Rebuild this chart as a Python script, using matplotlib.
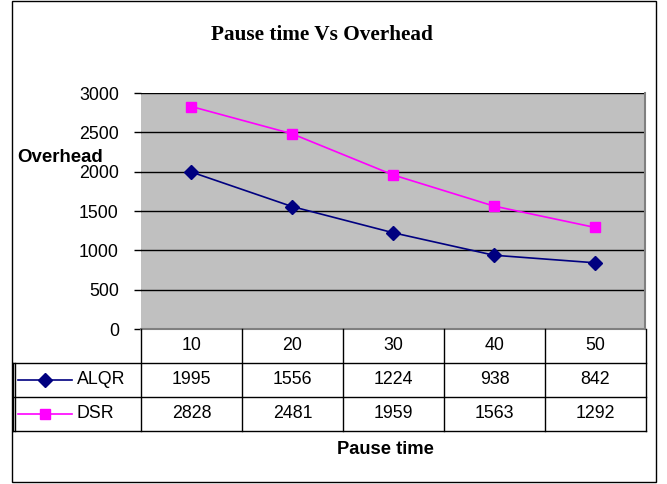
import matplotlib
matplotlib.use("Agg")
import matplotlib.pyplot as plt
from matplotlib.lines import Line2D
from matplotlib.patches import Rectangle

pause_times = [10, 20, 30, 40, 50]
alqr = [1995, 1556, 1224, 938, 842]
dsr = [2828, 2481, 1959, 1563, 1292]
series_names = ["ALQR", "DSR"]
y_ticks = [0, 500, 1000, 1500, 2000, 2500, 3000]

W, H = 667, 484
plt.rcParams["font.family"] = ["Liberation Sans", "DejaVu Sans"]
FS = 12.8

fig = plt.figure(figsize=(W / 100, H / 100), dpi=100)


def fx(px):
    return px / W


def fy(py):
    return 1 - py / H


def hline(x0, x1, y, **kw):
    fig.add_artist(Line2D([fx(x0), fx(x1)], [fy(y), fy(y)], color="black", lw=1, **kw))


def vline(x, y0, y1, **kw):
    fig.add_artist(Line2D([fx(x), fx(x)], [fy(y0), fy(y1)], color="black", lw=1, **kw))


# outer chart border
fig.add_artist(Rectangle((fx(12), fy(482)), fx(656) - fx(12), fy(1) - fy(482),
                         fill=False, edgecolor="black", lw=1))

left, right, top, bottom = 141, 645, 93, 329
ax = fig.add_axes([fx(left), fy(bottom), fx(right) - fx(left), fy(top) - fy(bottom)])
ax.set_facecolor("#C0C0C0")
ax.set_xlim(0.5, len(pause_times) + 0.5)
ax.set_ylim(0, 3000)
ax.set_yticks(y_ticks)
ax.set_yticklabels([str(t) for t in y_ticks], fontsize=FS)
ax.set_xticks([])
ax.yaxis.grid(True, color="black", lw=1)
ax.set_axisbelow(True)
ax.tick_params(axis="y", direction="out", length=5, width=1, pad=11)
for side in ["top", "left"]:
    ax.spines[side].set_visible(False)
ax.spines["right"].set_color("#808080")
ax.spines["right"].set_linewidth(1.5)
ax.spines["bottom"].set_color("#808080")
ax.spines["bottom"].set_linewidth(1.5)

xs = range(1, len(pause_times) + 1)
ax.plot(xs, alqr, color="#000080", marker="D", markersize=7.5, lw=1.2, clip_on=False)
ax.plot(xs, dsr, color="#FF00FF", marker="s", markersize=7.5, lw=1.2, clip_on=False)

fig.text(fx(322), fy(35), "Pause time Vs Overhead", ha="center", va="center",
         fontsize=15.3, fontweight="bold", family=["Liberation Serif", "DejaVu Serif"])
fig.text(fx(17), fy(158), "Overhead", ha="left", va="center", fontsize=13.4, fontweight="bold")
fig.text(fx(385), fy(449), "Pause time", ha="center", va="center", fontsize=13.2, fontweight="bold")

# data table
col_w = (646 - left) / len(pause_times)
row_tops = [329, 363, 397, 431]
cols = [left + i * col_w for i in range(len(pause_times) + 1)]

hline(13, 646, 363)
hline(13, 646, 397)
hline(13, 646, 431)
vline(13, 363, 431)
vline(15, 363, 431)
for c in cols:
    vline(c, 329, 431)

for i, p in enumerate(pause_times):
    fig.text(fx(cols[i] + col_w / 2), fy(346), str(p), ha="center", va="center", fontsize=FS)

colors = ["#000080", "#FF00FF"]
markers = ["D", "s"]
for r, (name, vals) in enumerate(zip(series_names, [alqr, dsr])):
    yc = (row_tops[r + 1] + row_tops[r + 2]) / 2
    fig.add_artist(Line2D([fx(18), fx(72)], [fy(yc), fy(yc)], color=colors[r], lw=1.2))
    fig.add_artist(Line2D([fx(45)], [fy(yc)], color=colors[r], marker=markers[r],
                          markersize=7.5, lw=0))
    fig.text(fx(77), fy(yc), name, ha="left", va="center", fontsize=FS)
    for i, v in enumerate(vals):
        fig.text(fx(cols[i] + col_w / 2), fy(yc), str(v), ha="center", va="center", fontsize=FS)

fig.savefig("out.png", dpi=100)
